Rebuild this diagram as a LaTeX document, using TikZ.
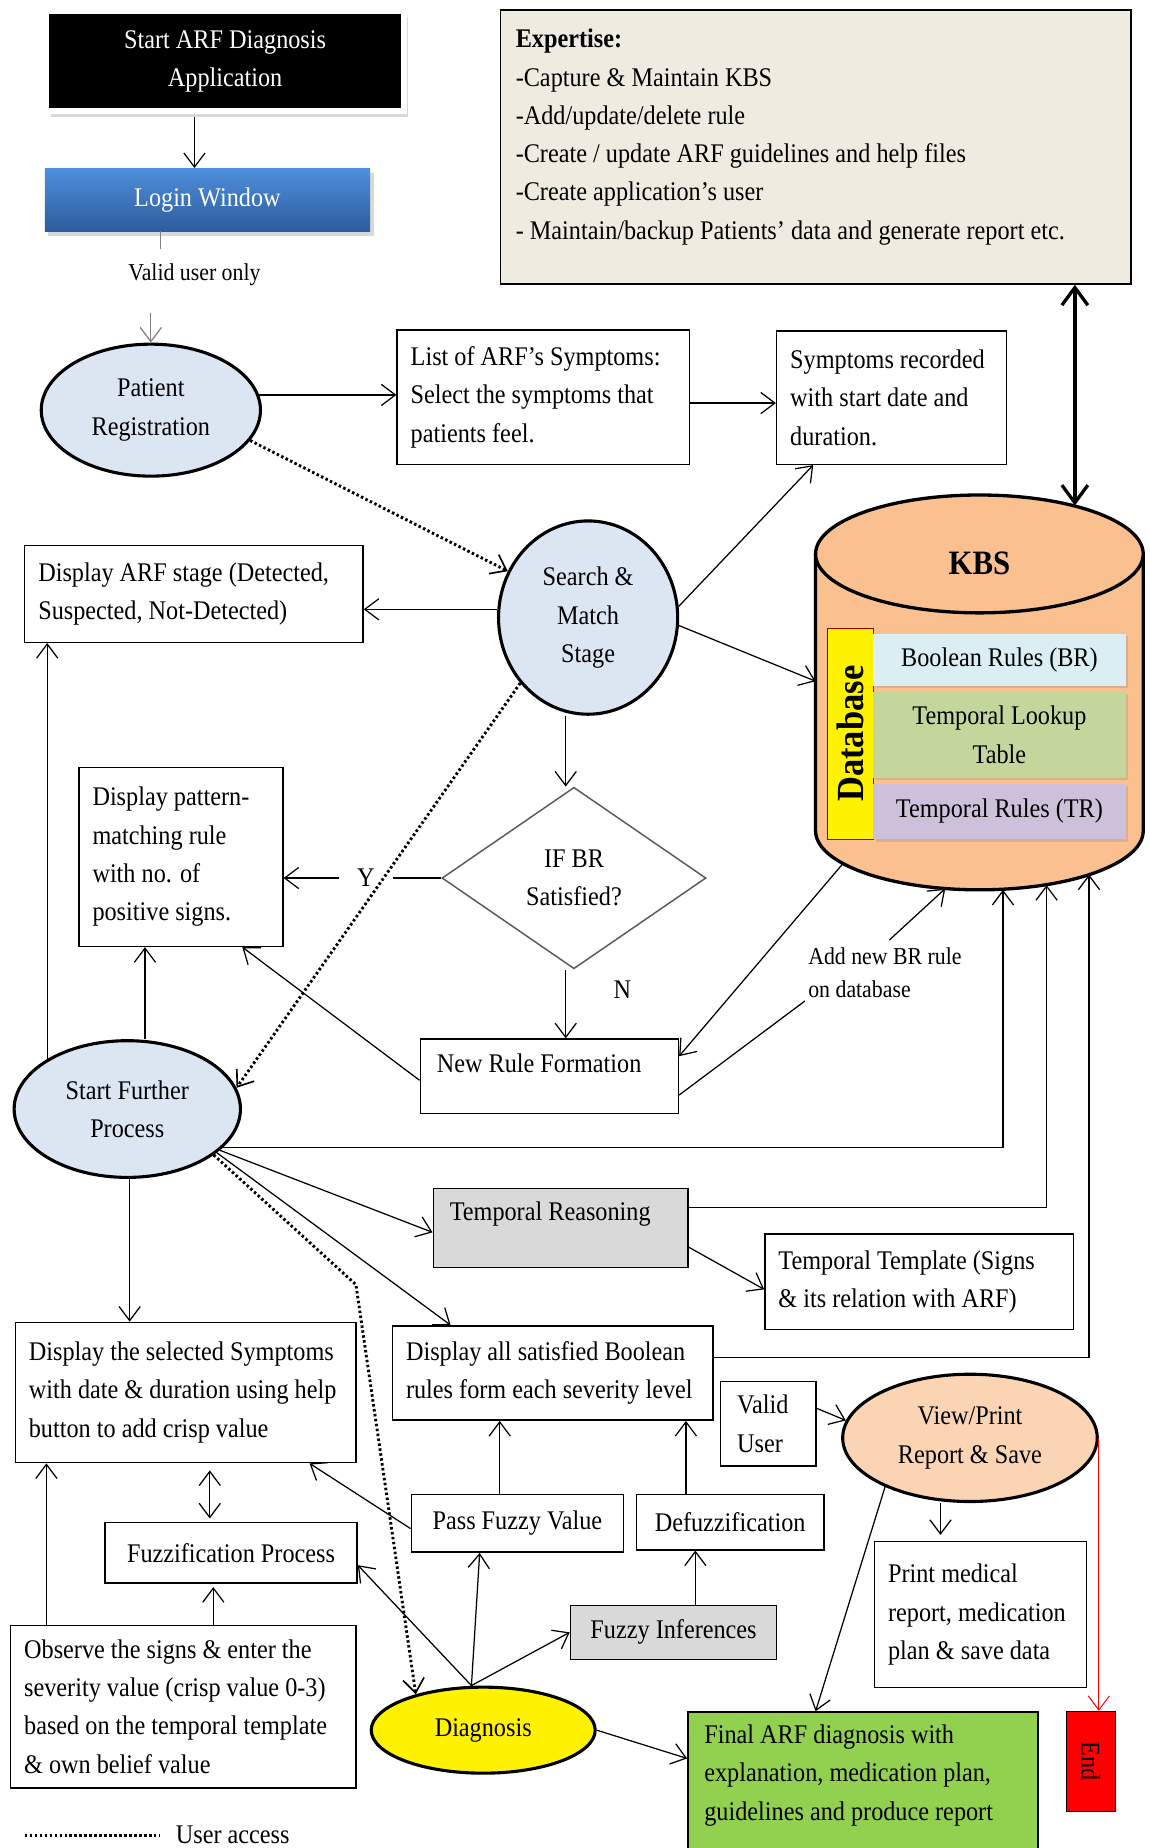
\documentclass[tikz,border=0pt]{standalone}
\usepackage{fontspec}
\setmainfont[FakeStretch=0.9]{Liberation Serif}
\usepackage{graphicx}
\usetikzlibrary{arrows.meta,positioning,shapes.geometric,shadows}

\definecolor{regblue}{HTML}{DCE6F2}
\definecolor{expgray}{HTML}{EEECE1}
\definecolor{kbsorange}{HTML}{FAC090}
\definecolor{brblue}{HTML}{DBEEF3}
\definecolor{lookgreen}{HTML}{C3D69B}
\definecolor{trlilac}{HTML}{CCC0DA}
\definecolor{boxgray}{HTML}{D9D9D9}
\definecolor{finalgreen}{HTML}{92D050}
\definecolor{viewpeach}{HTML}{FBD4B4}
\definecolor{logintop}{HTML}{4F8FDB}
\definecolor{loginbot}{HTML}{2C5C9C}

\begin{document}
\begin{tikzpicture}[
    x=0.2mm, y=-0.2mm,
    font=\fontsize{13}{18.5}\selectfont,
    box/.style 2 args={draw, line width=0.7pt, align=flush left, text width=#1-4.6mm, minimum height=#2, inner xsep=2.3mm, inner ysep=0pt},
    topbox/.style={draw, line width=0.7pt, align=flush left, anchor=north west, inner xsep=2.8mm, inner ysep=0pt},
    cbox/.style={draw, line width=0.7pt, align=center, inner sep=0pt},
    ellip/.style={ellipse, draw, line width=1.5pt, align=center, inner sep=0pt},
    decision/.style={diamond, draw=black!65, line width=0.7pt, align=center, inner sep=0pt, minimum width=44.8mm, minimum height=30.8mm},
    rulebox/.style={fill=#1, minimum width=42.8mm, align=center, inner sep=0pt, drop shadow={shadow xshift=0.4mm, shadow yshift=-0.4mm, opacity=0.25}},
    note/.style={font=\fontsize{11.7}{16}\selectfont, align=flush left},
    link/.style={-{Straight Barb[length=2.4mm,width=3.6mm]}, line width=0.6pt},
    dlink/.style={{Straight Barb[length=2.4mm,width=3.6mm]}-{Straight Barb[length=2.4mm,width=3.6mm]}, line width=0.6pt},
    dotlink/.style={-{Straight Barb[length=2.4mm,width=3.6mm,line width=0.8pt]}, line width=1.4pt, dash pattern=on 1.2pt off 1.2pt},
    biglink/.style={{Straight Barb[length=3mm,width=4.4mm]}-{Straight Barb[length=3mm,width=4.4mm]}, line width=1.6pt}
]
\path[use as bounding box, fill=white] (0,0) rectangle (975,1568);

% login part
\node[fill=black, text=white, draw=white, line width=1mm, minimum width=60.6mm, minimum height=17mm, align=center,
      drop shadow={shadow xshift=0.8mm, shadow yshift=-1mm, opacity=0.3}] (start) at (191,52) {Start ARF Diagnosis\\Application};
\node[top color=logintop, bottom color=loginbot, text=white, minimum width=55.2mm, minimum height=10.6mm,
      drop shadow={shadow xshift=0.6mm, shadow yshift=-0.8mm, opacity=0.3}] (login) at (176,169.5) {Login Window};
\node[note] (validtxt) at (165,233) {Valid user only};
\node[ellip, fill=regblue, minimum width=37.2mm, minimum height=22.4mm] (patient) at (128,348) {Patient\\Registration};
\node[box={49.6mm}{22.8mm}] (list) at (461,337) {List of ARF’s Symptoms:\\Select the symptoms that\\patients feel.};
\node[box={39mm}{22.6mm}] (symptoms) at (756.5,337.5) {Symptoms recorded\\with start date and\\duration.};
\node[topbox, fill=expgray, text width=101.8mm, inner xsep=2.6mm, inner ysep=3.2mm, text depth=36.9mm] (expertise) at (424,8)
  {\textbf{Expertise:}\\-Capture \& Maintain KBS\\-Add/update/delete rule\\-Create / update ARF guidelines and help files\\-Create application’s user\\- Maintain/backup Patients’ data and generate report etc.};

% knowledge base
\fill[kbsorange] (692,470) -- (692,705) arc[start angle=180, end angle=0, x radius=139, y radius=50] -- (970,470) -- cycle;
\draw[line width=1.6pt] (692,470) -- (692,705) arc[start angle=180, end angle=0, x radius=139, y radius=50] -- (970,470);
\draw[line width=1.6pt, fill=kbsorange] (831,470) ellipse[x radius=139, y radius=50];
\node[font=\fontsize{16.5}{20}\selectfont\bfseries] (kbslabel) at (831,478) {KBS};
\node[draw=red!60!black, fill=yellow, minimum width=7.8mm, minimum height=35.8mm, inner sep=0pt] (dbstrip) at (721.5,622.5)
  {\rotatebox{90}{\fontsize{18.5}{20}\selectfont\bfseries Database}};
\node[rulebox=brblue, minimum height=8.8mm] (br) at (848,560) {Boolean Rules (BR)};
\node[rulebox=lookgreen, minimum height=14.6mm] (lookup) at (848,623.5) {Temporal Lookup\\Table};
\node[rulebox=trlilac, minimum height=9.4mm] (tr) at (848,688.5) {Temporal Rules (TR)};
\coordinate (kbstop) at (912,429);
\coordinate (kbsin) at (692,578);
\coordinate (kbsnr) at (715,733);
\coordinate (kbsadd) at (802,754);
\coordinate (kbsb1) at (851,755);
\coordinate (kbsb2) at (888,751);
\coordinate (kbsb3) at (924,742);

% matching part
\node[box={57.4mm}{16.4mm}] (stage) at (164.5,504) {Display ARF stage (Detected,\\Suspected, Not-Detected)};
\node[ellip, fill=regblue, minimum width=30.4mm, minimum height=32.8mm] (search) at (499,524) {Search \&\\Match\\Stage};
\node[decision] (diamond) at (487,745) {IF BR\\Satisfied?};
\node[box={34.6mm}{30.4mm}] (pattern) at (153.5,727) {Display pattern-\\matching rule\\with no. of\\positive signs.};
\node[inner xsep=3mm] (ylab) at (310.5,745) {Y};
\node (nlab) at (528,840) {N};
\node[topbox, text width=38.2mm, text height=5.6mm, text depth=7mm] (newrule) at (356,881) {New Rule Formation};
\node[note, anchor=north west, inner sep=0.5mm] (addtxt) at (683,801) {Add new BR rule\\on database};
\node[ellip, fill=regblue, minimum width=38.4mm, minimum height=23.2mm] (further) at (108,941) {Start Further\\Process};

% fuzzy part
\node[topbox, fill=boxgray, text width=37.6mm, text height=5.4mm, text depth=8mm] (tempreason) at (367,1008) {Temporal Reasoning};
\node[box={52.4mm}{16.2mm}] (template) at (780,1087.5) {Temporal Template (Signs\\\& its relation with ARF)};
\node[box={54.4mm}{16mm}] (satisfied) at (469,1165) {Display all satisfied Boolean\\rules form each severity level};
\node[box={57.8mm}{23.8mm}] (selected) at (157.5,1181.5) {Display the selected Symptoms\\with date \& duration using help\\button to add crisp value};
\node[cbox, minimum width=42.8mm, minimum height=10.2mm] (fuzzif) at (196,1317.5) {Fuzzification Process};
\node[box={58.6mm}{27.6mm}] (observe) at (155.5,1448) {Observe the signs \& enter the\\severity value (crisp value 0-3)\\based on the temporal template\\\& own belief value};
\node[cbox, minimum width=36mm, minimum height=9.8mm] (passfuzzy) at (439,1292.5) {Pass Fuzzy Value};
\node[cbox, minimum width=31.8mm, minimum height=9.4mm] (defuzz) at (619.5,1291.5) {Defuzzification};
\node[cbox, fill=boxgray, minimum width=35mm, minimum height=9.2mm] (fuzzyinf) at (571.5,1385) {Fuzzy Inferences};
\node[ellip, fill=yellow, minimum width=38mm, minimum height=14.6mm] (diagnosis) at (410,1468) {Diagnosis};
\node[topbox, fill=finalgreen, text width=53.8mm, inner ysep=2.2mm, text depth=30mm] (final) at (583,1452)
  {Final ARF diagnosis with\\explanation, medication plan,\\guidelines and produce report};
\node[box={15.2mm}{14.4mm}, inner xsep=2.8mm] (validuser) at (652,1208) {Valid\\User};
\node[ellip, fill=viewpeach, minimum width=43.2mm, minimum height=21.6mm] (viewprint) at (823,1220) {View/Print\\Report \& Save};
\node[box={36mm}{24.8mm}] (printmed) at (832,1370) {Print medical\\report, medication\\plan \& save data};
\node[draw, fill=red, minimum width=8.2mm, minimum height=17mm, inner sep=0pt] (endbox) at (925.5,1494.5) {\rotatebox{-90}{End}};

% legend
\coordinate (legstart) at (21,1557);
\node[anchor=west] (legtxt) at (143,1557) {User access};

% connectors
\draw[link, shorten <=0.5mm] ([xshift=-5.2mm]start.south) -- ([xshift=-5.2mm]start.south |- login.north);
\draw[gray, line width=0.6pt, shorten >=1.2mm] ([xshift=-8mm]login.south) -- ([xshift=-8mm]login.south |- validtxt.north);
\draw[link, gray, shorten <=3.4mm] (validtxt.south -| patient.north) -- (patient.north);
\draw[link] (patient.8) -- (patient.8 -| list.west);
\draw[link] ([yshift=-1mm]list.east) -- ([yshift=-1mm]list.east -| symptoms.west);
\draw[biglink] (kbstop) -- (kbstop |- expertise.south);
\draw[dotlink] (patient.-17) -- (search.150);
\draw[link] ([yshift=1.4mm]search.west) -- ([yshift=1.4mm]search.west -| stage.east);
\draw[link] (search.7) -- ([xshift=-13.3mm]symptoms.south);
\draw[link] (search.-5) -- (kbsin);
\draw[link] ([xshift=-3.8mm]search.south) -- ([xshift=-3.8mm]search.south |- diamond.north);
\draw[line width=0.6pt] (diamond.west) -- (ylab.east);
\draw[link] (ylab.west) -- (ylab.west -| pattern.east);
\draw[link] ([xshift=-1.4mm]diamond.south) -- ([xshift=-1.4mm]diamond.south |- newrule.north);
\draw[link] (kbsnr) -- ([yshift=3.4mm]newrule.east);
\draw[line width=0.6pt] ([yshift=-3.2mm]newrule.east) -- (addtxt.south west);
\draw[link, shorten <=1mm] (addtxt.north) -- (kbsadd);
\draw[link] ([yshift=-0.7mm]newrule.west) -- ([xshift=-7mm]pattern.south east);
\draw[link] (further.148) -- (further.148 |- stage.south);
\draw[link] ([xshift=3mm]further.north) -- ([xshift=3mm]further.north |- pattern.south);
\draw[dotlink] (search.-136) -- (further.11);
\draw[link] (further.-22) -- (further.-22 -| kbsb1) -- (kbsb1);
\draw[link] (further.-24) -- ([yshift=-0.7mm]tempreason.west);
\draw[link] (further.-26) -- ([xshift=10mm]satisfied.north west);
\coordinate (bend) at (302,1090);
\draw[dotlink] (further.-28) -- (bend) -- (diagnosis.152);
\draw[link] ([xshift=0.4mm]further.south) -- ([xshift=0.4mm]further.south |- selected.north);
\draw[link] ([yshift=3.5mm]tempreason.east) -- ([yshift=3.5mm]tempreason.east -| kbsb2) -- (kbsb2);
\draw[link] ([yshift=-3.2mm]tempreason.east) -- ([yshift=-1.3mm]template.west);
\draw[link] ([yshift=2.6mm]satisfied.east) -- ([yshift=2.6mm]satisfied.east -| kbsb3) -- (kbsb3);
\draw[dlink, shorten <=1.2mm, shorten >=0.6mm] ([xshift=4.1mm]selected.south) -- ([xshift=4.1mm]selected.south |- fuzzif.north);
\draw[link, shorten >=0.6mm] ([xshift=5.1mm]observe.north) -- ([xshift=5.1mm]observe.north |- fuzzif.south);
\draw[link] ([xshift=6.2mm]observe.north west) -- ([xshift=6.2mm]observe.north west |- selected.south);
\draw[link] ([xshift=-3mm]passfuzzy.north) -- ([xshift=-3mm]passfuzzy.north |- satisfied.south);
\draw[link] ([xshift=-7.5mm]defuzz.north) -- ([xshift=-7.5mm]defuzz.north |- satisfied.south);
\draw[link] ([yshift=-0.9mm]passfuzzy.west) -- ([xshift=-8mm]selected.south east);
\draw[link] ([xshift=3.7mm]fuzzyinf.north) -- ([xshift=3.7mm]fuzzyinf.north |- defuzz.south);
\draw[link] ([xshift=-2mm]diagnosis.north) -- ([yshift=-2.1mm]fuzzif.east);
\draw[link] ([xshift=-2mm]diagnosis.north) -- ([xshift=-6.4mm]passfuzzy.south);
\draw[link] ([xshift=-2mm]diagnosis.north) -- (fuzzyinf.west);
\draw[link] (diagnosis.east) -- ([yshift=-8mm]final.north west);
\draw[link] ([yshift=2.6mm]validuser.east) -- (viewprint.172);
\draw[link, shorten >=1mm] ([xshift=-5mm]viewprint.south) -- ([xshift=-5mm]viewprint.south |- printmed.north);
\draw[link] (viewprint.210) -- ([xshift=21.8mm]final.north west);
\draw[link, red, line width=0.5pt] (viewprint.east) -- (viewprint.east |- endbox.north);
\draw[line width=1.4pt, dash pattern=on 1.2pt off 1.2pt] (legstart) -- ([xshift=-1.6mm]legtxt.west);
\end{tikzpicture}
\end{document}
